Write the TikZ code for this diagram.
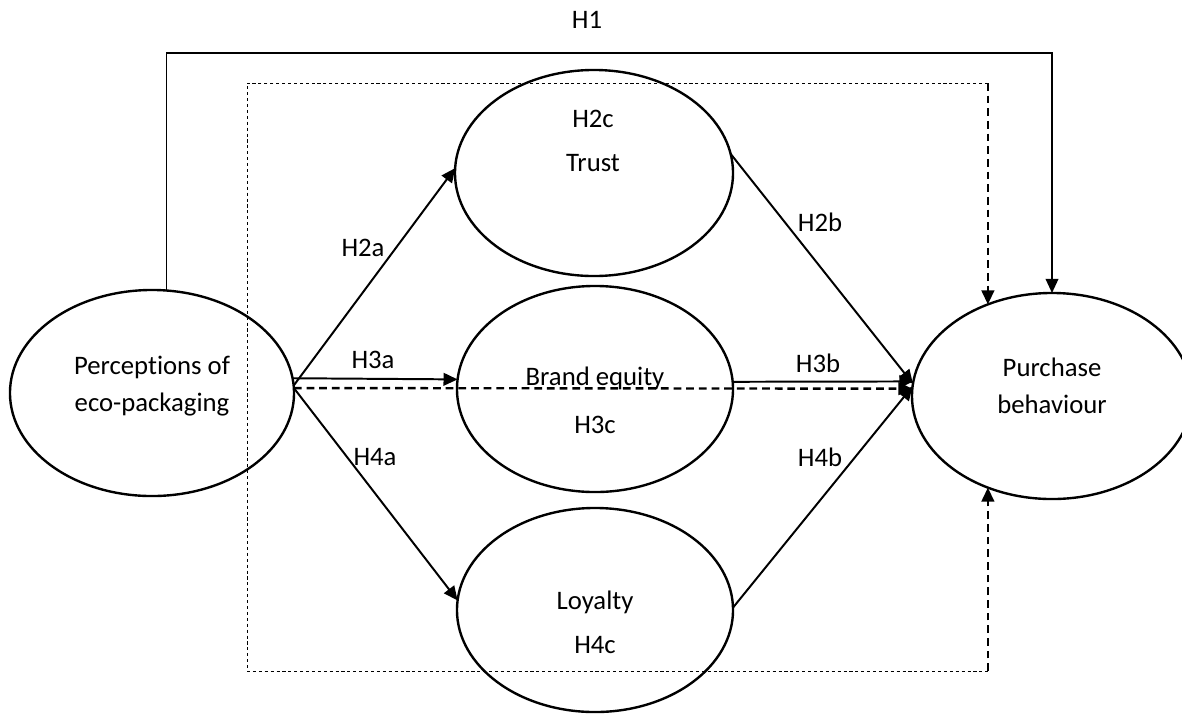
\documentclass[tikz,border=0pt]{standalone}
\usepackage{fontspec}
\setmainfont[Ligatures=NoCommon]{Carlito}
\usepackage{tikz}
\usetikzlibrary{arrows.meta, shapes.geometric}

\begin{document}
\begin{tikzpicture}[x=0.025cm, y=-0.025cm,
    construct/.style={draw, ellipse, line width=1.7pt, inner sep=0pt, outer sep=0pt,
        minimum width=6.95cm, minimum height=5.15cm},
    link/.style={-{Triangle[length=10pt, width=9pt]}, line width=1.4pt},
    dashlink/.style={link, line width=1.7pt, dash pattern=on 5.5pt off 3.5pt},
    thinbox/.style={line width=0.7pt, dash pattern=on 2.2pt off 2pt},
    txt/.style={font=\fontsize{19}{26}\selectfont, align=center}]
    \useasboundingbox (0,0) rectangle (1182,713);

    \node[construct, minimum width=7.1cm] (perc) at (152,393) {};
    \node[construct] (trust) at (594,173) {};
    \node[construct, minimum width=6.9cm] (brand) at (595,389) {};
    \node[construct, minimum width=6.9cm, minimum height=5.1cm] (loyal) at (595,610) {};
    \node[construct, minimum width=7cm] (purch) at (1052,396) {};

    \node[txt] (percT) at (152,386) {Perceptions of\\eco-packaging};
    \node[txt] (purchT) at (1052,386) {Purchase\\behaviour};
    \node[txt] (h2c) at (593,119) {H2c};
    \node[txt] (trustT) at (593,163) {Trust};
    \node[txt] (brandT) at (595,378) {Brand equity};
    \node[txt] (h3c) at (595,425) {H3c};
    \node[txt] (loyalT) at (595,602) {Loyalty};
    \node[txt] (h4c) at (595,645) {H4c};

    \node[txt] (h1) at (587,20) {H1};
    \node[txt] (h2a) at (363,248) {H2a};
    \node[txt] (h3a) at (373,360) {H3a};
    \node[txt] (h4a) at (375,457) {H4a};
    \node[txt] (h2b) at (820,222) {H2b};
    \node[txt] (h3b) at (818,363) {H3b};
    \node[txt] (h4b) at (820,457) {H4b};

    \coordinate (h1y) at (0,53);
    \coordinate (boxtop) at (0,83);
    \coordinate (boxbot) at (0,671);
    \coordinate (boxleft) at (247,0);

    \draw[link, line width=1.1pt] (perc.82) -- (perc.82 |- h1y) -- (purch.north |- h1y) -- (purch.north);

    \draw[thinbox] (purch.125 |- boxtop) -| (boxleft |- boxbot) -- (purch.235 |- boxbot);
    \draw[dashlink] (purch.125 |- boxtop) -- (purch.125);
    \draw[dashlink] (purch.235 |- boxbot) -- (purch.235);

    \draw[link] (perc.3) -- (trust.178);
    \draw[link] (perc.6) -- (brand.176);
    \draw[link] (perc.2) -- (loyal.176);
    \draw[dashlink] (perc.2) -- (purch.177);
    \draw[link] (trust.8) -- (purch.175);
    \draw[link] (brand.3) -- (purch.174);
    \draw[link] (loyal.1) -- (purch.176);
\end{tikzpicture}
\end{document}
